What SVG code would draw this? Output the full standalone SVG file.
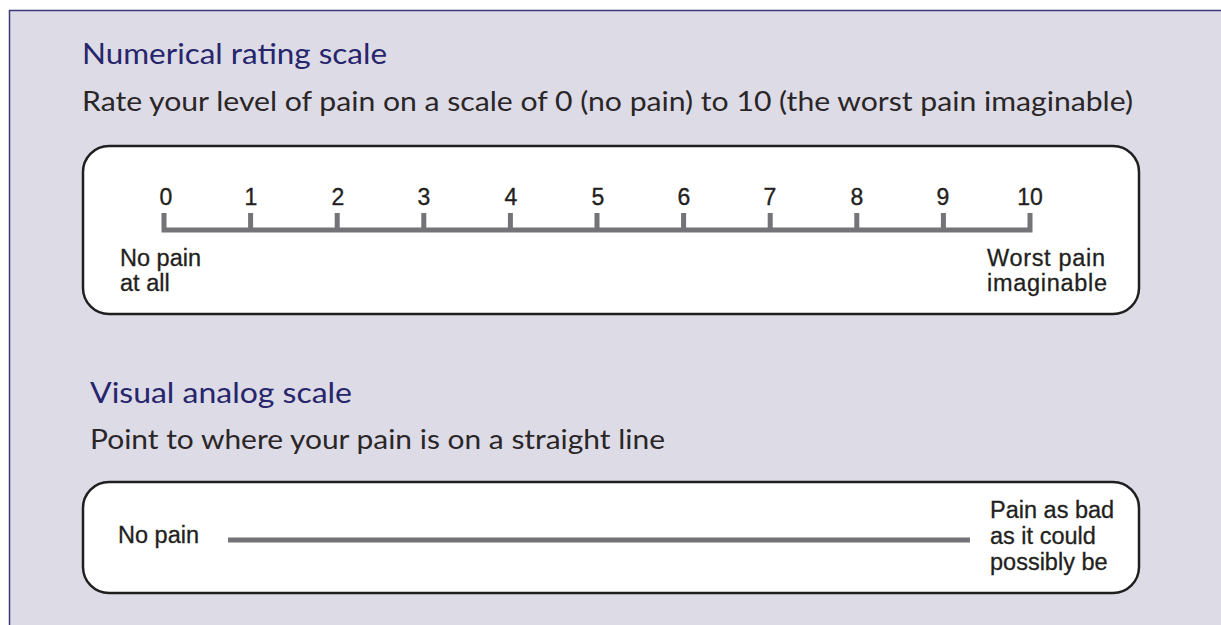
<svg xmlns="http://www.w3.org/2000/svg" width="1221" height="625" viewBox="0 0 1221 625">
<style>
.title{font-family:"Lato","Open Sans","Liberation Sans",sans-serif;font-size:29px;fill:#27256c}
.sub{font-family:"Lato","Open Sans","Liberation Sans",sans-serif;font-size:26px;fill:#2a2627}
.box{fill:#ffffff;stroke:#1f1f1f;stroke-width:2.5}
.lbl{font-family:"Liberation Sans",Arial,sans-serif;font-size:23.5px;fill:#231f20;stroke:#231f20;stroke-width:0.3}
.num{font-family:"Liberation Sans",Arial,sans-serif;font-size:23px;fill:#231f20;stroke:#231f20;stroke-width:0.35;text-anchor:middle}
.bar{stroke:#737378;stroke-width:5;fill:none}
</style>
<rect x="0" y="0" width="1221" height="625" fill="#ffffff"/>
<rect id="frame" x="9.5" y="10.5" width="1300" height="700" fill="#dcdbe6" stroke="#3b3a78" stroke-width="1.5"/>
<g id="nrs-heading">
<text class="title" x="82" y="64" textLength="305" lengthAdjust="spacingAndGlyphs">Numerical rating scale</text>
<text class="sub" x="82" y="111" textLength="1051" lengthAdjust="spacingAndGlyphs">Rate your level of pain on a scale of 0 (no pain) to 10 (the worst pain imaginable)</text>
</g>
<g id="nrs-box">
<rect class="box" x="83" y="146" width="1056" height="168" rx="26"/>
</g>
<g id="nrs-scale">
<path class="bar" d="M164 213 V230 H1030 V213 M250.6 213 V230 M337.2 213 V230 M423.8 213 V230 M510.4 213 V230 M597 213 V230 M683.6 213 V230 M770.2 213 V230 M856.8 213 V230 M943.4 213 V230"/>
<text class="num" x="166" y="205">0</text>
<text class="num" x="251" y="205">1</text>
<text class="num" x="338" y="205">2</text>
<text class="num" x="424" y="205">3</text>
<text class="num" x="511" y="205">4</text>
<text class="num" x="598" y="205">5</text>
<text class="num" x="684" y="205">6</text>
<text class="num" x="770" y="205">7</text>
<text class="num" x="857" y="205">8</text>
<text class="num" x="943" y="205">9</text>
<text class="num" x="1030" y="205">10</text>
</g>
<g id="nrs-left-label">
<text class="lbl" x="120" y="266">No pain</text>
<text class="lbl" x="120" y="291">at all</text>
</g>
<g id="nrs-right-label">
<text class="lbl" x="987" y="266" textLength="118" lengthAdjust="spacing">Worst pain</text>
<text class="lbl" x="987" y="291" textLength="120" lengthAdjust="spacing">imaginable</text>
</g>
<g id="vas-heading">
<text class="title" x="90" y="403" textLength="262" lengthAdjust="spacingAndGlyphs">Visual analog scale</text>
<text class="sub" x="90" y="449" textLength="575" lengthAdjust="spacingAndGlyphs">Point to where your pain is on a straight line</text>
</g>
<g id="vas-box">
<rect class="box" x="83" y="482" width="1056" height="111" rx="26"/>
</g>
<g id="vas-line">
<line class="bar" x1="228" y1="540" x2="970" y2="540"/>
</g>
<g id="vas-left-label">
<text class="lbl" x="118" y="543">No pain</text>
</g>
<g id="vas-right-label">
<text class="lbl" x="990" y="518">Pain as bad</text>
<text class="lbl" x="990" y="544">as it could</text>
<text class="lbl" x="990" y="570">possibly be</text>
</g>
</svg>
